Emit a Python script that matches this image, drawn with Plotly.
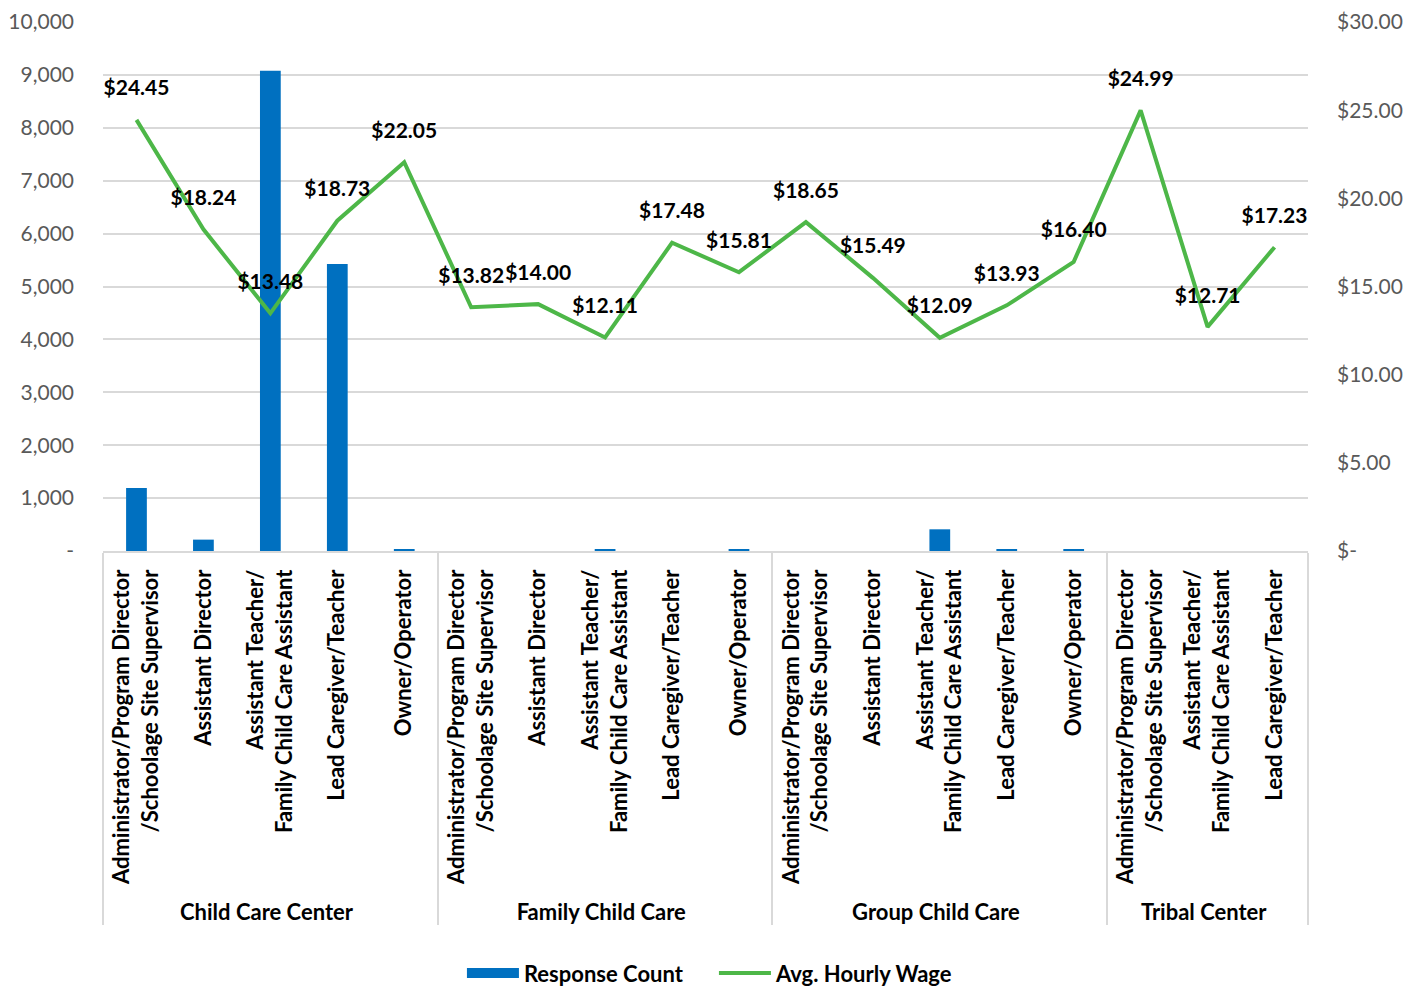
"""
Response count and average hourly wage by role and setting (combo chart).
"""

import plotly.graph_objects as go

# --- data -----------------------------------------------------------------
ADMIN = "Administrator/Program Director<br>/Schoolage Site Supervisor"
ASST_DIR = "Assistant Director"
ASST_TEACH = "Assistant Teacher/<br>Family Child Care Assistant"
LEAD = "Lead Caregiver/Teacher"
OWNER = "Owner/Operator"

settings = (
    ["Child Care Center"] * 5
    + ["Family Child Care"] * 5
    + ["Group Child Care"] * 5
    + ["Tribal Center"] * 3
)
roles = (
    [ADMIN, ASST_DIR, ASST_TEACH, LEAD, OWNER]
    + [ADMIN, ASST_DIR, ASST_TEACH, LEAD, OWNER]
    + [ADMIN, ASST_DIR, ASST_TEACH, LEAD, OWNER]
    + [ADMIN, ASST_TEACH, LEAD]
)
response_count = [1190, 215, 9080, 5425, 30,
                  0, 0, 30, 0, 30,
                  0, 0, 410, 30, 30,
                  0, 0, 0]
avg_wage = [24.45, 18.24, 13.48, 18.73, 22.05,
            13.82, 14.00, 12.11, 17.48, 15.81,
            18.65, 15.49, 12.09, 13.93, 16.40,
            24.99, 12.71, 17.23]

count_ticks = [0, 1000, 2000, 3000, 4000, 5000, 6000, 7000, 8000, 9000, 10000]
count_ticktext = ["-", "1,000", "2,000", "3,000", "4,000", "5,000",
                  "6,000", "7,000", "8,000", "9,000", "10,000"]
wage_ticks = [0, 5, 10, 15, 20, 25, 30]
wage_ticktext = ["$-", "$5.00", "$10.00", "$15.00", "$20.00", "$25.00", "$30.00"]

# --- style ----------------------------------------------------------------
BLUE = "#0070C0"
GREEN = "#4DB748"
GRID = "#D9D9D9"
AXIS_TEXT = "#595959"
FONT = "Lato"

x = [settings, roles]
wage_labels = [f"${v:.2f}" for v in avg_wage]

fig = go.Figure()

fig.add_trace(go.Bar(
    x=x, y=response_count, name="Response Count", showlegend=False,
    marker=dict(color=BLUE, line=dict(width=0)),
    hovertemplate="%{y:,}<extra></extra>",
))
# legend swatch for the bars (wide rectangle like the original)
fig.add_trace(go.Scatter(
    x=[None], y=[None], name="Response Count", mode="lines",
    line=dict(color=BLUE, width=14),
))
fig.add_trace(go.Scatter(
    x=x, y=avg_wage, name="Avg. Hourly Wage", yaxis="y2",
    mode="lines", line=dict(color=GREEN, width=4),
    hovertemplate="$%{y:.2f}<extra></extra>",
))
# data labels above the wage points
fig.add_trace(go.Scatter(
    x=x, y=avg_wage, yaxis="y2", showlegend=False, hoverinfo="skip",
    mode="markers+text", text=wage_labels, textposition="top center",
    marker=dict(size=29, opacity=0),
    textfont=dict(family=FONT, size=21, color="black", weight="bold"),
    cliponaxis=False,
))

# page body adds an 8px offset, so the figure is sized to fit the window
fig.update_layout(
    width=1416, height=982,
    paper_bgcolor="white", plot_bgcolor="white",
    font=dict(family=FONT, size=21, color="black"),
    margin=dict(l=95, r=116, t=14, b=439, autoexpand=False),
    bargap=0.69,
    showlegend=True,
    legend=dict(
        orientation="h", x=0.507, xanchor="center", y=-0.798, yanchor="middle",
        font=dict(family=FONT, size=22, color="black", weight="bold"),
        itemwidth=52, entrywidth=185, traceorder="normal",
    ),
    xaxis=dict(
        type="multicategory", tickangle=-90, range=[-0.5, 17.5],
        tickfont=dict(family=FONT, size=22, color="black", weight="bold"),
        showline=True, linecolor=GRID, linewidth=1.5,
        showdividers=True, dividercolor=GRID, dividerwidth=1.5,
        ticks="", showgrid=False, automargin=False, ticklabelstandoff=8,
    ),
    yaxis=dict(
        range=[0, 10000], tickvals=count_ticks, ticktext=count_ticktext,
        showgrid=True, gridcolor=GRID, gridwidth=1.5, zeroline=False,
        tickfont=dict(family=FONT, size=21, color=AXIS_TEXT),
        ticklabelstandoff=28, ticklabeloverflow="allow", automargin=False,
    ),
    yaxis2=dict(
        range=[0, 30], tickvals=wage_ticks, ticktext=wage_ticktext,
        overlaying="y", side="right", showgrid=False, zeroline=False,
        tickfont=dict(family=FONT, size=21, color=AXIS_TEXT),
        ticklabelstandoff=28, ticklabeloverflow="allow", automargin=False,
    ),
)

fig.write_html("out.html")
